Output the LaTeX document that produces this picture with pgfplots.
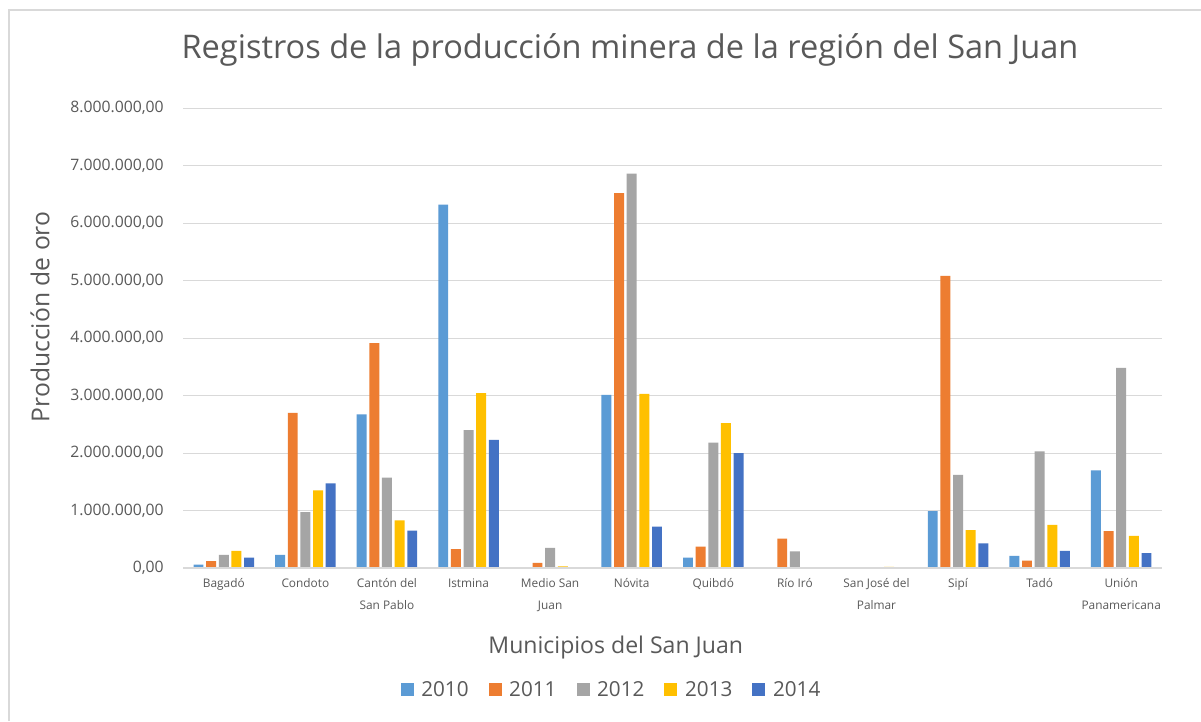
\documentclass[border=0pt]{standalone}
\usepackage{pgfplots}
\pgfplotsset{compat=1.18}
\usepackage{fontspec}
\setmainfont{Open Sans}
\definecolor{cA}{HTML}{5B9BD5}
\definecolor{cB}{HTML}{ED7D31}
\definecolor{cC}{HTML}{A5A5A5}
\definecolor{cD}{HTML}{FFC000}
\definecolor{cE}{HTML}{4472C4}
\definecolor{txt}{HTML}{595959}
\definecolor{gridc}{HTML}{D9D9D9}
\begin{document}
\begin{tikzpicture}
\path[use as bounding box] (0,0) rectangle (900.75pt,540.75pt);
\fill[white] (0,0) rectangle (900.75pt,540.75pt);
\draw[gridc, line width=0.9pt] (6.75pt,0) -- (6.75pt,533.25pt) -- (900.75pt,533.25pt);
\node[text=txt, font=\fontsize{24.4}{29}\selectfont] at (472.5pt,503.25pt) {Registros de la producción minera de la región del San Juan};
\begin{axis}[
  at={(137.25pt,114.75pt)}, anchor=south west, scale only axis,
  width=734.25pt, height=345pt,
  xmin=-0.5, xmax=11.5, ymin=0, ymax=8000000,
  scaled y ticks=false,
  axis line style={draw=none},
  major tick length=0pt,
  ymajorgrids, grid style={gridc, line width=0.75pt},
  ytick={0,1000000,2000000,3000000,4000000,5000000,6000000,7000000,8000000},
  yticklabels={{0,00},{1.000.000,00},{2.000.000,00},{3.000.000,00},{4.000.000,00},{5.000.000,00},{6.000.000,00},{7.000.000,00},{8.000.000,00}},
  yticklabel style={font=\fontsize{11.8}{13}\selectfont, text=txt, xshift=-11pt},
  xtick={0,1,2,3,4,5,6,7,8,9,10,11},
  xticklabels={Bagadó,Condoto,{Cantón del\\San Pablo},Istmina,{Medio San\\Juan},Nóvita,Quibdó,Río Iró,{San José del\\Palmar},Sipí,Tadó,{Unión\\Panamericana}},
  xticklabel style={align=center, font=\fontsize{8.9}{16.5}\selectfont, text=txt, yshift=-4.5pt},
  xlabel={Municipios del San Juan},
  ylabel={Producción de oro},
  xlabel style={font=\fontsize{17.3}{20}\selectfont, text=txt, at={(axis description cs:0.442,-0.172)}, anchor=center},
  ylabel style={font=\fontsize{18.5}{21}\selectfont, text=txt, at={(axis description cs:-0.146,0.546)}, anchor=center},
  ybar, bar width=0.122,
  legend columns=5,
  legend style={draw=none, fill=none, at={(axis description cs:0.438,-0.265)}, anchor=center,
    font=\fontsize{15.5}{18}\selectfont, text=txt,
    /tikz/every even column/.append style={column sep=13pt}},
  legend image code/.code={\fill[#1] (0pt,-4.9pt) rectangle (9.75pt,4.85pt); \path (13.5pt,0pt);},
]
\addplot[fill=cA, draw=none, bar shift=-0.31] coordinates {(0,60000) (1,230000) (2,2670000) (3,6320000) (4,10000) (5,3010000) (6,180000) (7,10000) (8,0) (9,990000) (10,210000) (11,1700000)};
\addplot[fill=cB, draw=none, bar shift=-0.155] coordinates {(0,120000) (1,2700000) (2,3910000) (3,330000) (4,90000) (5,6520000) (6,370000) (7,510000) (8,0) (9,5080000) (10,130000) (11,640000)};
\addplot[fill=cC, draw=none, bar shift=0] coordinates {(0,230000) (1,970000) (2,1570000) (3,2400000) (4,350000) (5,6860000) (6,2180000) (7,290000) (8,10000) (9,1620000) (10,2030000) (11,3480000)};
\addplot[fill=cD, draw=none, bar shift=0.155] coordinates {(0,300000) (1,1350000) (2,830000) (3,3040000) (4,30000) (5,3030000) (6,2520000) (7,0) (8,20000) (9,660000) (10,750000) (11,560000)};
\addplot[fill=cE, draw=none, bar shift=0.31] coordinates {(0,180000) (1,1470000) (2,650000) (3,2230000) (4,0) (5,720000) (6,2000000) (7,0) (8,0) (9,430000) (10,300000) (11,260000)};
\legend{2010,2011,2012,2013,2014}
\draw[gridc, line width=1.5pt] (axis cs:-0.5,0) -- (axis cs:11.5,0);
\end{axis}
\end{tikzpicture}
\end{document}
